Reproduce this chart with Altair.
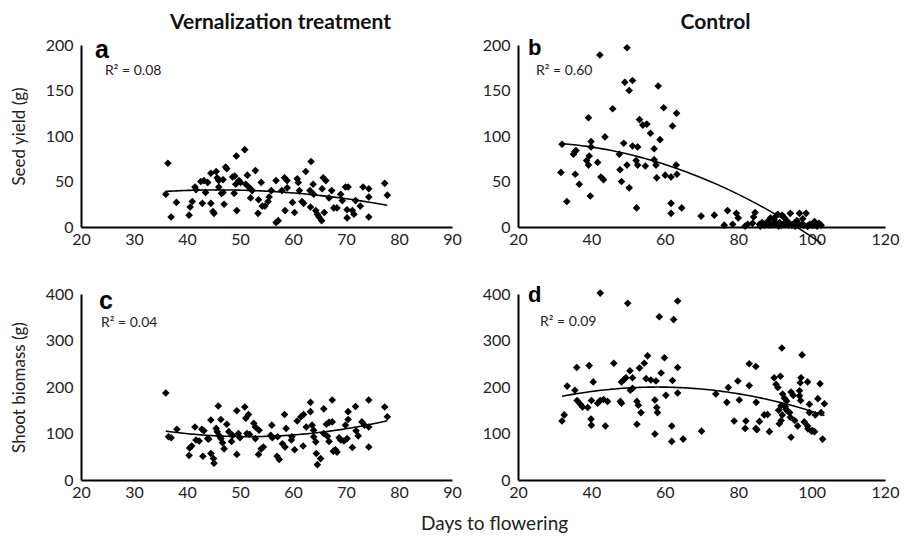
import altair as alt
import pandas as pd

# ---------------- data ----------------
a_days = [36.4, 36.0, 37.0, 38.0, 40.4, 40.6, 41.0, 41.5, 41.7, 42.6, 43.2, 43.9, 42.9, 43.5, 44.5,
          44.5, 44.9, 45.1, 45.5, 45.7, 46.0, 46.0, 46.5, 46.8, 47.3, 47.5, 47.0, 46.8, 48.6, 49.0,
          49.2, 48.9, 49.3, 49.4, 49.8, 50.1, 50.9, 51.4, 51.1, 51.8, 52.0, 52.3, 52.9, 53.5, 53.4,
          54.0, 54.2, 54.7, 55.3, 55.5, 55.9, 56.8, 56.8, 57.2, 57.9, 58.4, 58.9, 58.5, 58.9, 59.9,
          60.3, 60.8, 61.0, 61.2, 61.7, 62.0, 62.4, 63.4, 63.2, 63.3, 63.8, 63.9, 64.3, 64.6, 64.9,
          65.4, 65.7, 65.9, 66.2, 65.5, 66.8, 67.3, 67.7, 68.3, 69.0, 69.3, 69.9, 70.4, 70.2, 70.2,
          71.2, 71.5, 71.8, 72.7, 73.2, 74.3, 74.3, 74.3, 77.3, 77.8]
a_seed = [70, 36, 11, 27, 13, 22, 28, 44, 41, 50, 51, 49, 26, 38, 59,
          26, 17, 15, 61, 54, 51, 44, 37, 52, 66, 64, 25, 38, 55, 56,
          47, 37, 78, 18, 51, 49, 85, 57, 47, 43, 32, 40, 62, 30, 15,
          49, 23, 23, 28, 33, 40, 51, 5, 7, 40, 54, 51, 18, 43, 27,
          16, 53, 49, 40, 28, 26, 61, 72, 40, 22, 47, 36, 18, 14, 11,
          7, 54, 16, 51, 42, 32, 40, 21, 21, 36, 29, 44, 44, 19, 10,
          18, 14, 29, 23, 44, 42, 33, 11, 48, 35]

b_days = [32.0, 31.7, 33.3, 35.1, 35.5, 35.8, 35.6, 36.7, 39.2, 38.7, 39.2, 39.4, 39.9, 39.9, 39.7,
          41.7, 42.3, 42.6, 43.3, 43.7, 45.8, 47.6, 47.8, 48.2, 48.8, 49.1, 49.7, 50.3, 49.7, 50.3,
          51.2, 51.2, 52.6, 52.2, 52.6, 52.3, 53.1, 54.0, 55.1, 54.7, 56.1, 57.1, 57.1, 57.6, 57.8,
          58.2, 58.7, 59.7, 60.1, 61.7, 61.7, 61.7, 62.1, 63.2, 63.1, 63.3, 64.6, 69.9, 73.5, 77.1,
          76.2, 78.5, 79.5, 80.0, 81.9, 82.6, 83.9, 84.2, 84.6, 85.8, 86.5, 87.2, 88.0, 88.8, 89.3,
          89.8, 90.3, 90.8, 91.3, 91.7, 92.0, 92.6, 93.0, 93.5, 94.2, 94.6, 95.2, 96.0, 96.7, 97.3,
          97.6, 98.5, 98.9, 99.5, 100.2, 100.8, 101.5, 102.0, 102.6,
          86.0, 88.5, 90.0, 91.0, 92.3, 93.8, 95.5, 96.4, 97.9, 99.0, 100.5, 101.2]
b_seed = [91, 60, 28, 80, 83, 84, 58, 47, 120, 73, 68, 78, 88, 94, 34,
          71, 189, 55, 52, 99, 130, 80, 63, 50, 92, 159, 197, 150, 68, 43,
          161, 89, 88, 73, 68, 21, 118, 112, 113, 67, 103, 86, 74, 68, 54,
          155, 96, 131, 57, 55, 26, 15, 111, 125, 68, 58, 21, 12, 13, 18,
          2, 3, 15, 10, 1, 3, 4, 11, 16, 3, 5, 2, 6, 10, 3,
          8, 12, 14, 5, 2, 13, 10, 3, 6, 15, 2, 4, 7, 15, 3,
          9, 15, 1, 3, 2, 6, 1, 4, 2,
          1, 2, 4, 1, 3, 2, 1, 3, 2, 1, 2, 3]

c_days = [36.0, 36.5, 37.0, 38.1, 40.5, 40.9, 40.4, 41.5, 41.7, 42.3, 42.8, 43.2, 43.0, 43.9, 44.1,
          44.5, 44.5, 45.0, 45.1, 45.5, 45.7, 45.9, 46.0, 46.4, 46.4, 46.7, 47.0, 47.5, 47.9, 48.6,
          48.4, 49.4, 49.4, 49.7, 50.0, 50.9, 51.1, 51.6, 51.3, 51.8, 52.6, 52.9, 52.9, 53.6, 53.5,
          54.0, 54.4, 55.8, 56.0, 56.1, 57.0, 57.4, 57.1, 58.0, 58.5, 58.4, 58.7, 59.7, 59.8, 60.3,
          60.8, 61.5, 62.0, 61.9, 62.5, 63.3, 63.3, 63.6, 63.9, 63.9, 64.3, 64.4, 64.6, 65.2, 65.8,
          65.8, 66.5, 66.3, 66.8, 66.8, 67.4, 67.4, 68.0, 68.3, 68.7, 69.0, 69.9, 70.2, 70.4, 70.4,
          71.2, 71.8, 71.9, 73.0, 74.3, 74.3, 74.3, 77.3, 77.8,
          67.6, 69.6, 72.3, 73.5]
c_biomass = [187, 93, 91, 109, 69, 73, 53, 114, 86, 84, 109, 106, 51, 89, 88,
             129, 57, 46, 36, 111, 104, 159, 96, 89, 130, 80, 67, 120, 104, 96,
             83, 149, 55, 100, 91, 157, 133, 141, 100, 98, 122, 114, 89, 107, 55,
             67, 71, 96, 118, 91, 51, 44, 93, 78, 71, 141, 111, 86, 93, 65,
             127, 136, 141, 73, 114, 167, 147, 118, 107, 93, 82, 57, 33, 46, 153,
             100, 94, 120, 124, 83, 172, 125, 65, 60, 91, 86, 118, 89, 147, 130,
             70, 158, 106, 125, 172, 114, 71, 157, 136,
             62, 84, 95, 118]

d_days = [42.4, 49.9, 58.5, 62.4, 63.5, 91.9, 97.4, 36.0, 39.4, 46.1, 55.3, 54.4, 53.1, 59.9, 63.5,
          50.5, 59.0, 83.0, 84.8, 33.4, 35.5, 40.5, 48.2, 48.9, 49.4, 51.2, 54.9, 56.2, 57.6, 62.1,
          79.9, 83.0, 77.3, 89.8, 91.5, 90.3, 90.8, 97.1, 98.9, 96.9, 102.3, 96.7, 96.7, 97.0, 94.4,
          92.1, 92.6, 91.7, 32.6, 32.0, 39.9, 40.0, 43.8, 52.4, 57.3, 61.9, 61.9, 65.0, 70.0, 78.9,
          82.1, 81.9, 84.8, 88.5, 94.4, 103.0, 100.3, 100.8, 98.9, 98.0, 96.2, 91.7, 91.2, 36.1, 37.0,
          37.6, 39.0, 40.0, 41.7, 42.4, 43.3, 44.4, 47.9, 48.2, 50.6, 51.2, 52.4, 52.8, 53.5, 57.3,
          57.8, 58.0, 60.3, 63.5, 73.9, 76.9, 80.3, 84.9, 85.1, 85.8, 87.1, 88.0, 93.0, 93.5, 94.0,
          95.0, 99.4, 99.4, 101.7, 102.6, 103.5,
          91.0, 92.0, 92.8, 93.2, 94.2, 95.4, 99.0, 100.0, 101.0]
d_biomass = [402, 380, 351, 345, 385, 284, 269, 242, 246, 251, 267, 251, 241, 263, 242,
             235, 230, 250, 244, 202, 193, 211, 211, 216, 220, 220, 218, 215, 213, 214,
             213, 203, 199, 220, 223, 206, 199, 220, 211, 209, 207, 192, 181, 171, 189,
             185, 176, 160, 140, 127, 131, 118, 116, 120, 99, 116, 83, 88, 105, 127,
             127, 111, 111, 104, 92, 88, 106, 104, 116, 125, 116, 128, 121, 171, 163,
             157, 156, 171, 165, 171, 173, 169, 169, 165, 193, 197, 169, 161, 145, 172,
             156, 145, 182, 187, 185, 167, 172, 167, 108, 126, 140, 141, 152, 148, 145,
             182, 163, 145, 175, 145, 164,
             150, 140, 158, 170, 135, 128, 110, 105, 140]

col_titles = ["Vernalization treatment", "Control"]
y_titles = ["Seed yield (g)", "Shoot biomass (g)"]
letters = ["a", "b", "c", "d"]
r2_labels = ["R\u00b2 = 0.08", "R\u00b2 = 0.60", "R\u00b2 = 0.04", "R\u00b2 = 0.09"]
x_title = "Days to flowering"

FONT = "Lato"


def panel(days, vals, xmax, xstep, ymax, ystep, ytitle, letter, r2, w, h,
          letter_pos, r2_pos, letter_size, col_title=None):
    df = pd.DataFrame({"days": days, "val": vals})
    x = alt.X("days:Q",
              scale=alt.Scale(domain=[20, xmax], nice=False, zero=False),
              axis=alt.Axis(values=list(range(20, xmax + 1, xstep)), title=None,
                            labelPadding=4))
    yaxis = alt.Axis(values=list(range(0, ymax + 1, ystep)), title=ytitle,
                     labelPadding=8)
    y = alt.Y("val:Q", scale=alt.Scale(domain=[0, ymax], nice=False), axis=yaxis)
    base = alt.Chart(df)
    pts = base.mark_point(shape="diamond", filled=True, color="black",
                          size=58, opacity=1).encode(x=x, y=y)
    trend = base.transform_regression("days", "val", method="poly", order=2).mark_line(
        color="black", strokeWidth=1.6).encode(x=x, y=y)
    lab = pd.DataFrame({"t": [letter], "r": [r2]})
    ltxt = alt.Chart(lab).mark_text(font="Liberation Sans", fontWeight="bold",
                                    fontSize=letter_size, align="left", baseline="middle",
                                    color="black").encode(
        text="t:N", x=alt.value(letter_pos[0]), y=alt.value(letter_pos[1]))
    rtxt = alt.Chart(lab).mark_text(font=FONT, fontSize=14, align="left",
                                    baseline="middle", color="#222").encode(
        text="r:N", x=alt.value(r2_pos[0]), y=alt.value(r2_pos[1]))
    props = dict(width=w, height=h)
    if col_title is not None:
        props["title"] = alt.TitleParams(col_title, font=FONT, fontSize=21,
                                         fontWeight="bold", anchor="middle",
                                         frame="group", offset=4, dx=14, color="#111")
    return alt.layer(trend, pts, ltxt, rtxt).properties(**props)


pa = panel(a_days, a_seed, 90, 10, 200, 50, y_titles[0], letters[0], r2_labels[0],
           371, 182, (14, 5), (24, 26), 25, col_titles[0])
pb = panel(b_days, b_seed, 120, 20, 200, 50, None, letters[1], r2_labels[1],
           367, 182, (10, 3), (18, 26), 22, col_titles[1])
pc = panel(c_days, c_biomass, 90, 10, 400, 100, y_titles[1], letters[2], r2_labels[2],
           371, 186, (18, 7), (20, 29), 25)
pd_ = panel(d_days, d_biomass, 120, 20, 400, 100, None, letters[3], r2_labels[3],
            367, 186, (10, 1), (22, 28), 22)

top = alt.hconcat(pa, pb, spacing=20)
bottom = alt.hconcat(pc, pd_, spacing=20)

chart = alt.vconcat(top, bottom, spacing=37).properties(
    title=alt.TitleParams(x_title, orient="bottom", anchor="middle", font=FONT,
                          fontSize=19, fontWeight="normal", color="#222", offset=15, dx=40),
    padding={"left": 2, "top": 4, "right": 2, "bottom": 0},
).configure_axis(
    domainColor="black", domainWidth=2, ticks=False, grid=False,
    labelFont=FONT, labelFontSize=16, labelColor="#222",
    labelFlush=False, labelOverlap=False,
    titleFont=FONT, titleFontSize=17, titleFontWeight="normal", titleColor="#222",
    titlePadding=17,
).configure_view(stroke=None)

chart.save("out.html", embed_options={"renderer": "svg", "actions": False})
